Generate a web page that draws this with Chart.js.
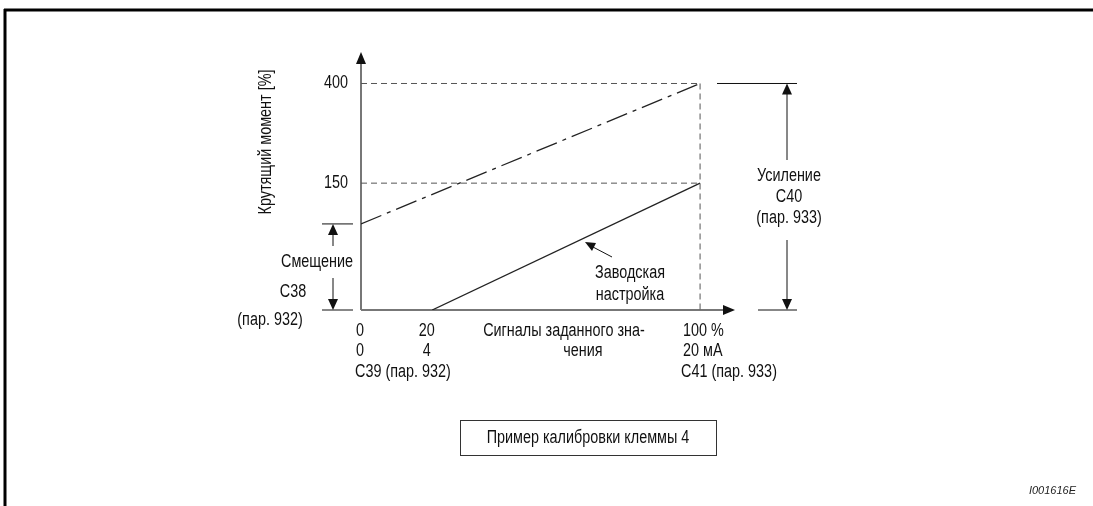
<!DOCTYPE html>
<html><head><meta charset="utf-8">
<script src="https://cdn.jsdelivr.net/npm/chart.js@4"></script>
<style>html,body{margin:0;padding:0;background:#fff;overflow:hidden}#wrap{width:1093px;height:506px;position:relative}</style>
</head><body><div id="wrap"><canvas id="c" width="1093" height="506"></canvas></div>
<script>
// ---- data (schematic diagram units) ----
const gainX = [0, 100];          // dash-dot line: set-point signal %
const gainY = [152, 400];        // torque (diagram units)
const factoryX = [21, 100];      // factory setting line
const factoryY = [0, 224];
const yTickValues = [224, 400];
const yTickLabels = ['150', '400'];
const xTickValues = [0, 20, 100];
const xTickRow1 = ['0', '20', '100 %'];
const xTickRow2 = ['0', '4', '20 мА'];
const offsetValue = 152;         // bias level (C38)
const X_MAX = 110.3, Y_MAX = 455.6;

const FONT = '18px "Liberation Sans", Arial, sans-serif';
const SX = 0.8;                  // horizontal condensing of text
const INK = '#111';

function txt(ctx, s, x, y, align) {
  ctx.save();
  ctx.font = FONT; ctx.fillStyle = INK;
  ctx.textBaseline = 'middle'; ctx.textAlign = 'left';
  const w = ctx.measureText(s).width * SX;
  let lx = x;
  if ((align || 'center') === 'center') lx = x - w / 2;
  else if (align === 'right') lx = x - w;
  ctx.translate(lx, y); ctx.scale(SX, 1);
  ctx.fillText(s, 0, 0);
  ctx.restore();
}
function head(ctx, x, y, dir, len, hw) {
  len = len || 12; hw = hw || 5;
  ctx.save(); ctx.fillStyle = INK; ctx.beginPath();
  if (dir === 'up') { ctx.moveTo(x, y); ctx.lineTo(x - hw, y + len); ctx.lineTo(x + hw, y + len); }
  if (dir === 'down') { ctx.moveTo(x, y); ctx.lineTo(x - hw, y - len); ctx.lineTo(x + hw, y - len); }
  if (dir === 'right') { ctx.moveTo(x, y); ctx.lineTo(x - len, y - hw); ctx.lineTo(x - len, y + hw); }
  ctx.closePath(); ctx.fill(); ctx.restore();
}
function seg(ctx, x1, y1, x2, y2, color, w, dash) {
  ctx.save(); ctx.strokeStyle = color; ctx.lineWidth = w; ctx.setLineDash(dash || []);
  ctx.beginPath(); ctx.moveTo(x1, y1); ctx.lineTo(x2, y2); ctx.stroke(); ctx.restore();
}

const diagram = {
  id: 'diagram',
  beforeDatasetsDraw(chart) {
    const ctx = chart.ctx, xs = chart.scales.x, ys = chart.scales.y;
    const x0 = xs.getPixelForValue(0), y0 = ys.getPixelForValue(0);
    // frame
    seg(ctx, 4, 10, 1093, 10, '#000', 3);
    seg(ctx, 5, 9, 5, 506, '#000', 3);
    // axes
    seg(ctx, x0, y0, x0, ys.getPixelForValue(Y_MAX) + 10, '#777', 2);
    head(ctx, x0, ys.getPixelForValue(Y_MAX), 'up', 12, 5);
    seg(ctx, x0, y0, xs.getPixelForValue(X_MAX) - 10, y0, '#777', 2);
    head(ctx, xs.getPixelForValue(X_MAX), y0, 'right', 12, 5);
  },
  afterDraw(chart) {
    const ctx = chart.ctx, xs = chart.scales.x, ys = chart.scales.y;
    const x0 = xs.getPixelForValue(0), y0 = ys.getPixelForValue(0);
    const x100 = xs.getPixelForValue(100);
    const yTop = ys.getPixelForValue(400), yOff = ys.getPixelForValue(offsetValue);
    // y tick labels
    yTickValues.forEach((v, i) => txt(ctx, yTickLabels[i], x0 - 13, ys.getPixelForValue(v), 'right'));
    // y title
    ctx.save(); ctx.translate(266, 142); ctx.rotate(-Math.PI / 2);
    txt(ctx, 'Крутящий момент [%]', 0, 0, 'center'); ctx.restore();
    // x tick rows
    xTickValues.forEach((v, i) => {
      const px = xs.getPixelForValue(v);
      const al = i === 1 ? 'center' : 'left';
      const ox = i === 0 ? -5 : (i === 2 ? -17 : -2);
      txt(ctx, xTickRow1[i], px + ox, 331, al);
      txt(ctx, xTickRow2[i], px + ox, 351, al);
    });
    txt(ctx, 'С39 (пар. 932)', x0 - 6, 372, 'left');
    txt(ctx, 'С41 (пар. 933)', x100 - 19, 372, 'left');
    txt(ctx, 'Сигналы заданного зна-', 564, 331, 'center');
    txt(ctx, 'чения', 583, 351, 'center');
    // factory setting label + pointer
    txt(ctx, 'Заводская', 630, 273, 'center');
    txt(ctx, 'настройка', 630, 295, 'center');
    ctx.save(); ctx.strokeStyle = INK; ctx.lineWidth = 1;
    ctx.beginPath(); ctx.moveTo(612, 257); ctx.lineTo(593, 247); ctx.stroke();
    ctx.fillStyle = INK; ctx.beginPath();
    ctx.moveTo(585, 242); ctx.lineTo(596, 243); ctx.lineTo(592, 251); ctx.closePath(); ctx.fill();
    ctx.restore();
    // right dimension (gain)
    seg(ctx, 717, yTop, 797, yTop, INK, 1);
    seg(ctx, 758, y0, 797, y0, INK, 1);
    seg(ctx, 787, yTop + 10, 787, 160, INK, 1);
    seg(ctx, 787, 240, 787, y0 - 10, INK, 1);
    head(ctx, 787, yTop, 'up', 11, 5);
    head(ctx, 787, y0, 'down', 11, 5);
    txt(ctx, 'Усиление', 789, 176, 'center');
    txt(ctx, 'С40', 789, 197, 'center');
    txt(ctx, '(пар. 933)', 789, 218, 'center');
    // left dimension (bias)
    seg(ctx, 322, yOff, 353, yOff, INK, 1);
    seg(ctx, 322, y0, 353, y0, INK, 1);
    seg(ctx, 333, yOff + 10, 333, 246, INK, 1);
    seg(ctx, 333, 278, 333, y0 - 10, INK, 1);
    head(ctx, 333, yOff, 'up', 11, 5);
    head(ctx, 333, y0, 'down', 11, 5);
    txt(ctx, 'Смещение', 317, 262, 'center');
    txt(ctx, 'С38', 293, 292, 'center');
    txt(ctx, '(пар. 932)', 270, 320, 'center');
    // caption box
    ctx.save(); ctx.strokeStyle = '#333'; ctx.lineWidth = 1;
    ctx.strokeRect(460.5, 420.5, 256, 35); ctx.restore();
    txt(ctx, 'Пример калибровки клеммы 4', 588, 438, 'center');
    // figure id
    ctx.save(); ctx.font = 'italic 11px "Liberation Sans", Arial, sans-serif'; ctx.fillStyle = '#222';
    ctx.textAlign = 'right'; ctx.textBaseline = 'middle'; ctx.fillText('I001616E', 1076, 491); ctx.restore();
  }
};

const pts = (xa, ya) => xa.map((x, i) => ({ x, y: ya[i] }));

new Chart(document.getElementById('c'), {
  type: 'scatter',
  data: {
    datasets: [
      { data: pts([0, 100], [400, 400]), showLine: true, borderColor: '#555', borderWidth: 1, borderDash: [6, 4], pointRadius: 0 },
      { data: pts([0, 100], [224, 224]), showLine: true, borderColor: '#555', borderWidth: 1, borderDash: [6, 4], pointRadius: 0 },
      { data: pts([100, 100], [400, 0]), showLine: true, borderColor: '#555', borderWidth: 1, borderDash: [6, 4], pointRadius: 0 },
      { data: pts(gainX, gainY), showLine: true, borderColor: '#222', borderWidth: 1.3, borderDash: [22, 6, 4, 6], pointRadius: 0 },
      { data: pts(factoryX, factoryY), showLine: true, borderColor: '#222', borderWidth: 1.3, pointRadius: 0 }
    ]
  },
  options: {
    responsive: false, animation: false, devicePixelRatio: 1,
    layout: { padding: { left: 361, right: 358, top: 52, bottom: 196 } },
    plugins: { legend: { display: false }, tooltip: { enabled: false } },
    scales: {
      x: { type: 'linear', min: 0, max: X_MAX, display: false },
      y: { type: 'linear', min: 0, max: Y_MAX, display: false }
    }
  },
  plugins: [diagram]
});
</script></body></html>
